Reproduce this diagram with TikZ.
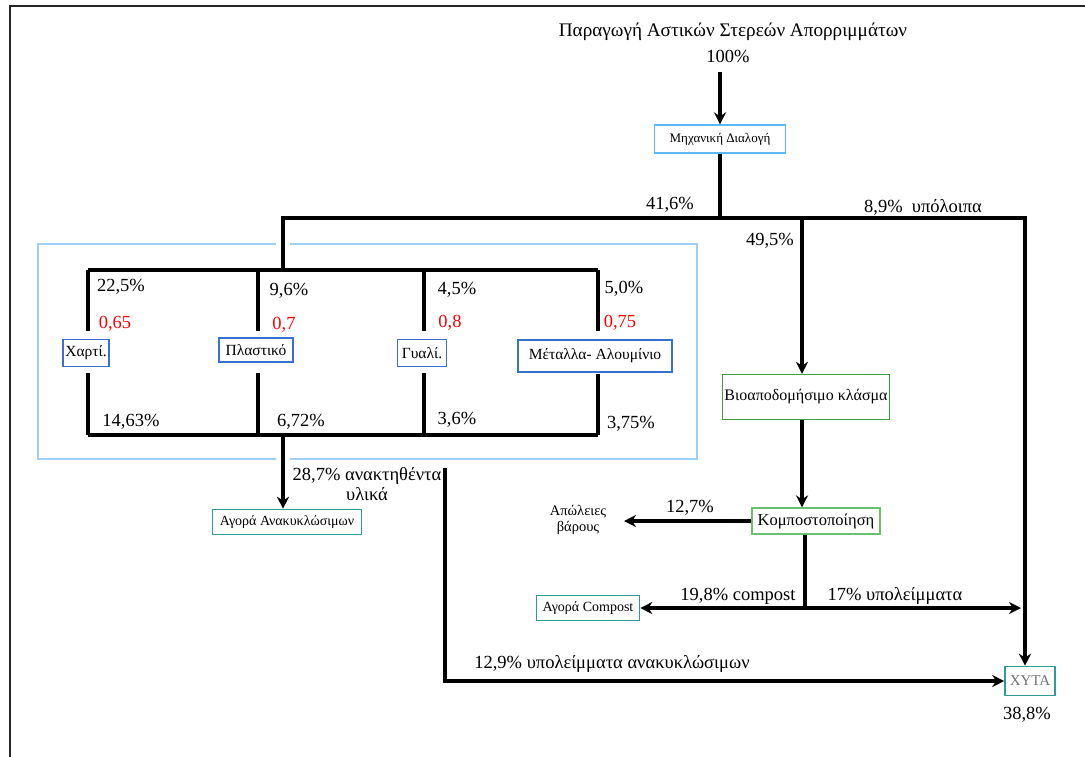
\documentclass[tikz,border=0pt]{standalone}
\usepackage{fontspec}
\setmainfont{Liberation Serif}
\usetikzlibrary{arrows.meta}
\definecolor{skyb}{HTML}{5CB8F5}
\definecolor{paleb}{HTML}{9ECFF5}
\definecolor{matb}{HTML}{3A6FD0}
\definecolor{grn}{HTML}{3C9E3C}
\definecolor{lgrn}{HTML}{6CC06C}
\definecolor{teal}{HTML}{2E9C9C}
\begin{document}
\begin{tikzpicture}[x=1pt,y=-1pt,
  flow/.style={line width=4.4pt, black},
  arr/.style={flow,-{Stealth[length=12pt,width=12pt]}},
  lbl/.style={font=\fontsize{18.5}{20}\selectfont, inner sep=0pt},
  redlbl/.style={lbl, text=red},
  boxbase/.style={draw, line width=1.2pt, fill=white, inner sep=1pt},
  mechbox/.style={boxbase, draw=skyb, font=\fontsize{13}{14}\selectfont},
  matbox/.style={boxbase, draw=matb, line width=1.6pt, font=\fontsize{15.5}{16}\selectfont},
  grnbox/.style={boxbase, draw=grn, line width=1.4pt, font=\fontsize{16}{17}\selectfont},
  lgrnbox/.style={boxbase, draw=lgrn, font=\fontsize{16.5}{17}\selectfont},
  tealbox/.style={boxbase, draw=teal, line width=1.6pt, font=\fontsize{14}{15}\selectfont}
]
\useasboundingbox (0,0) rectangle (1085,756);
% outer frame
\draw[line width=2.4pt, black!85] (10,770) -- (10,6) -- (1100,6);
% light blue frame around materials
\draw[paleb, line width=1.4pt] (276,244) -- (38,244) -- (38,459) -- (276,459);
\draw[paleb, line width=1.4pt] (290,244) -- (697,244) -- (697,459) -- (290,459);

% title
\node[lbl, font=\fontsize{19.2}{21}\selectfont] (title) at (733,32) {Παραγωγή Αστικών Στερεών Απορριμμάτων};
\node[lbl] (p100) at (728,56) {100\%};

% boxes
\node[mechbox, minimum width=131pt, minimum height=28pt] (mech) at (720,139) {Μηχανική Διαλογή};
\node[matbox, minimum width=46pt, minimum height=27pt] (paper) at (86,353) {Χαρτί.};
\node[matbox, minimum width=74pt, minimum height=24pt] (plastic) at (256,350) {Πλαστικό};
\node[matbox, minimum width=49pt, minimum height=27pt] (glass) at (422,353) {Γυαλί.};
\node[matbox, minimum width=154pt, minimum height=32pt] (metal) at (595,356) {Μέταλλα- Αλουμίνιο};
\node[grnbox, minimum width=167pt, minimum height=45pt] (bio) at (806,397) {Βιοαποδομήσιμο κλάσμα};
\node[lgrnbox, minimum width=128pt, minimum height=26pt] (komp) at (816,521) {Κομποστοποίηση};
\node[tealbox, minimum width=149pt, minimum height=25pt] (recmkt) at (287,522) {Αγορά Ανακυκλώσιμων};
\node[tealbox, minimum width=103pt, minimum height=25pt] (compmkt) at (588,608) {Αγορά Compost};
\node[tealbox, minimum width=50pt, minimum height=29pt, text=black!55, font=\fontsize{15}{16}\selectfont] (xyta) at (1030,681) {ΧΥΤΑ};
\node[lbl, align=center, font=\fontsize{14.5}{16}\selectfont] (loss) at (578,520) {Απώλειες\\βάρους};

% junction coordinates
\coordinate (jTop) at (720,218);
\coordinate (jL) at (283,218);
\coordinate (jR) at (1025,218);
\coordinate (jM) at (802,218);
\coordinate (bT) at (283,270);
\coordinate (t1) at (88,270);
\coordinate (t2) at (258,270);
\coordinate (t3) at (424,270);
\coordinate (t4) at (598,270);
\coordinate (u1) at (88,435);
\coordinate (u2) at (258,435);
\coordinate (u3) at (424,435);
\coordinate (u4) at (598,435);
\coordinate (uM) at (283,435);
\coordinate (rs) at (445,468);
\coordinate (lossEnd) at (624,520);
\coordinate (kj) at (805,608);
\coordinate (rEnd) at (1021,608);
\coordinate (a0) at (720,72);

% connectors
\draw[arr] (a0) -- (mech.north -| a0);
\draw[flow] (mech.south -| jTop) -- (jTop);
\draw[arr] (bT) -- (jL) -- (jR) -- (jR |- xyta.north);
\draw[arr] (jM) -- (jM |- bio.north);
\draw[flow] (t1) -- (t4);
\draw[flow] (t1) -- (t1 |- 0,331);
\draw[flow] (t2) -- (t2 |- 0,331);
\draw[flow] (t3) -- (t3 |- 0,331);
\draw[flow] (t4) -- (t4 |- 0,331);
\draw[flow] (u1 |- 0,373) -- (u1);
\draw[flow] (u2 |- 0,373) -- (u2);
\draw[flow] (u3 |- 0,373) -- (u3);
\draw[flow] (u4 |- 0,374) -- (u4);
\draw[flow] (u1) -- (u4);
\draw[arr] (uM) -- (uM |- recmkt.north);
\draw[arr] (rs) -- (rs |- xyta.west) -- (xyta.west);
\draw[arr] (bio.south -| jM) -- (komp.north -| jM);
\draw[arr] (komp.west) -- (lossEnd |- komp.west);
\draw[flow] (komp.south -| kj) -- (kj);
\draw[flow, {Stealth[length=12pt,width=12pt]}-{Stealth[length=12pt,width=12pt]}] (compmkt.east) -- (rEnd);

% labels
\node[lbl] (l416) at (670,205) {41,6\%};
\node[lbl] (l89) at (923,207) {8,9\%\ \ υπόλοιπα};
\node[lbl] (l495) at (770,241) {49,5\%};
\node[lbl] (l225) at (121,287) {22,5\%};
\node[lbl] (l96) at (289,291) {9,6\%};
\node[lbl] (l45) at (457,290) {4,5\%};
\node[lbl] (l50) at (624,289) {5,0\%};
\node[redlbl] (r1) at (115,324) {0,65};
\node[redlbl] (r2) at (284,325) {0,7};
\node[redlbl] (r3) at (450,323) {0,8};
\node[redlbl] (r4) at (620,323) {0,75};
\node[lbl] (l1463) at (131,422) {14,63\%};
\node[lbl] (l672) at (301,422) {6,72\%};
\node[lbl] (l36) at (457,420) {3,6\%};
\node[lbl] (l375) at (631,424) {3,75\%};
\node[lbl, align=center] (l287) at (367,484) {28,7\% ανακτηθέντα\\υλικά};
\node[lbl] (l127) at (690,508) {12,7\%};
\node[lbl] (l198) at (738,596) {19,8\% compost};
\node[lbl] (l17) at (895,596) {17\% υπολείμματα};
\node[lbl] (l129) at (612,664) {12,9\% υπολείμματα ανακυκλώσιμων};
\node[lbl] (l388) at (1027,715) {38,8\%};
\end{tikzpicture}
\end{document}
